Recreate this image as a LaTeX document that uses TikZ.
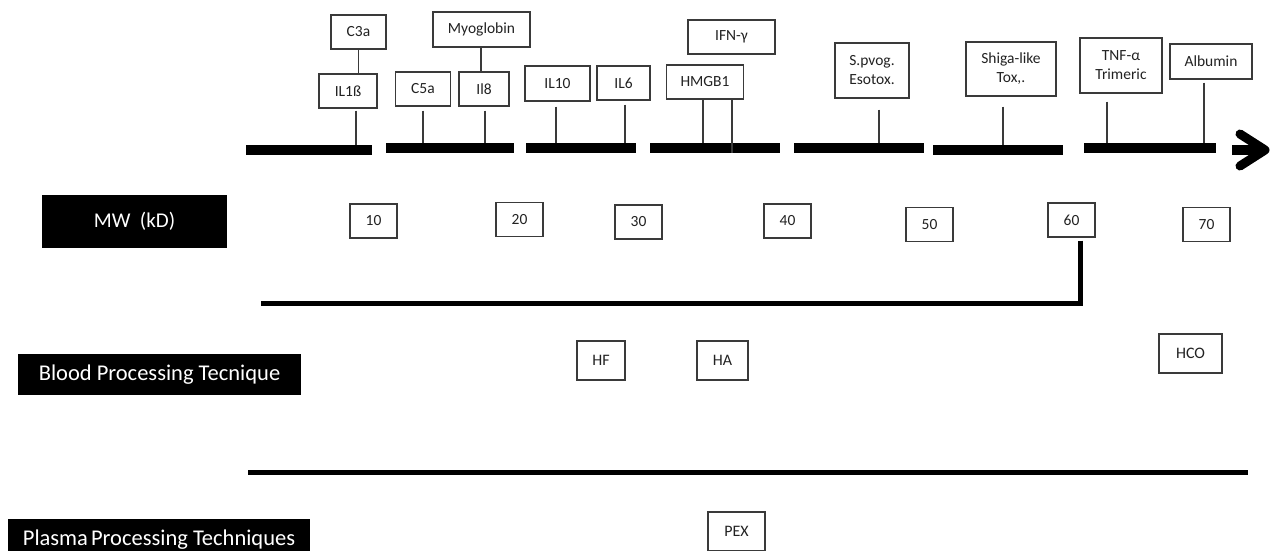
\documentclass[tikz,border=0pt]{standalone}
\usepackage{fontspec}
\setmainfont{Carlito}
\definecolor{boxgray}{HTML}{3A3A3A}
\definecolor{txt}{HTML}{222222}
\tikzset{
  lbl/.style={draw=boxgray, line width=1.3pt, fill=white, inner sep=0pt, align=center,
    text=txt, font=\fontsize{15.5}{19}\selectfont},
  num/.style={lbl, minimum width=47, minimum height=34, font=\fontsize{15.5}{17}\selectfont},
  tech/.style={lbl, minimum height=39, font=\fontsize{16}{18}\selectfont},
  head/.style={fill=black, text=white, inner sep=0pt, font=\fontsize{21}{24}\selectfont},
  bighead/.style={head, font=\fontsize{22.5}{26}\selectfont},
  barbox/.style={fill=black, inner sep=0pt, minimum height=10},
  tick/.style={draw=boxgray, line width=1.2pt},
  thickline/.style={draw=black, line width=5pt},
}
\begin{document}
\begin{tikzpicture}[x=1pt, y=-1pt]
\useasboundingbox (0,0) rectangle (1272,551);

% timeline bars
\node[barbox, minimum width=126] (b1) at (309,150) {};
\node[barbox, minimum width=128] (b2) at (450,148) {};
\node[barbox, minimum width=110] (b3) at (581,148) {};
\node[barbox, minimum width=130] (b4) at (715,148) {};
\node[barbox, minimum width=130] (b5) at (859,148) {};
\node[barbox, minimum width=130] (b6) at (998,150) {};
\node[barbox, minimum width=132] (b7) at (1150,148) {};
\coordinate (arrS) at (1232,150);
\coordinate (arrT) at (1265,150);
\coordinate (arrU) at (1240,134);
\coordinate (arrD) at (1240,166);
\draw[line width=10pt] (arrS) -- (arrT);
\draw[line width=9pt, line cap=round, line join=round] (arrU) -- (arrT) -- (arrD);

% molecule boxes
\node[lbl, minimum width=55, minimum height=34] (c3a) at (358.5,32) {C3a};
\node[lbl, minimum width=58, minimum height=34] (il1b) at (348,91) {IL1ß};
\node[lbl, minimum width=55, minimum height=34] (c5a) at (423,89) {C5a};
\node[lbl, minimum width=50, minimum height=34] (il8) at (484,89) {Il8};
\node[lbl, minimum width=97, minimum height=35] (myo) at (481.5,29.5) {Myoglobin};
\node[lbl, minimum width=65, minimum height=35] (il10) at (557.5,83.5) {IL10};
\node[lbl, minimum width=53, minimum height=34] (il6) at (623.5,83) {IL6};
\node[lbl, minimum width=77, minimum height=34] (hmgb) at (705,82) {HMGB1};
\node[lbl, minimum width=87, minimum height=34] (ifn) at (731.5,37) {IFN-γ};
\node[lbl, minimum width=74, minimum height=55] (spv) at (872,70.5) {S.pvog.\\Esotox.};
\node[lbl, minimum width=90, minimum height=54] (shiga) at (1011,69) {Shiga-like\\Tox,.};
\node[lbl, minimum width=82, minimum height=55] (tnf) at (1121,65.5) {TNF-α\\Trimeric};
\node[lbl, minimum width=82, minimum height=35] (alb) at (1211,61.5) {Albumin};

% connectors
\draw[tick] (c3a.south) -- (c3a.south |- il1b.north);
\draw[tick, shorten <=2pt] ([xshift=8]il1b.south) -- ([xshift=8]il1b.south |- b1.north);
\draw[tick, shorten <=4pt] (c5a.south) -- (c5a.south |- b2.north);
\draw[tick, shorten <=4pt] ([xshift=1]il8.south) -- ([xshift=1]il8.south |- b2.north);
\draw[tick] ([xshift=-0.5]myo.south) -- ([xshift=-0.5]myo.south |- il8.north);
\draw[tick, shorten <=5pt] ([xshift=-1.5]il10.south) -- ([xshift=-1.5]il10.south |- b3.north);
\draw[tick, shorten <=4pt] ([xshift=1.5]il6.south) -- ([xshift=1.5]il6.south |- b3.north);
\draw[tick] ([xshift=-2]hmgb.south) -- ([xshift=-2]hmgb.south |- b4.north);
\draw[tick] ([xshift=27]hmgb.south) -- ([xshift=27]hmgb.south |- b4.south);
\draw[tick, shorten <=11pt] ([xshift=7]spv.south) -- ([xshift=7]spv.south |- b5.north);
\draw[tick, shorten <=10pt] ([xshift=-8]shiga.south) -- ([xshift=-8]shiga.south |- b6.north);
\draw[tick, shorten <=8pt] ([xshift=-14]tnf.south) -- ([xshift=-14]tnf.south |- b7.north);
\draw[tick, shorten <=3pt] ([xshift=-7]alb.south) -- ([xshift=-7]alb.south |- b7.north);

% MW row
\node[head, minimum width=185, minimum height=53] (mw) at (134.5,221.5) {MW\ \ (kD)};
\node[num] (n10) at (373.5,221) {10};
\node[num] (n20) at (519.5,219.5) {20};
\node[num] (n30) at (638.5,222) {30};
\node[num] (n40) at (787.5,221) {40};
\node[num] (n50) at (929.5,224.5) {50};
\node[num] (n60) at (1071.5,220) {60};
\node[num] (n70) at (1206.5,224.5) {70};

% bracket
\coordinate (bkL) at (261,303);
\draw[thickline, line join=miter] ([xshift=8.5,yshift=-3]n60.south) |- (bkL);

% blood processing
\node[bighead, minimum width=283, minimum height=41] (blood) at (159.5,374.5) {Blood Processing Tecnique};
\node[tech, minimum width=48] (hf) at (601,360.5) {HF};
\node[tech, minimum width=51] (ha) at (722.5,360.5) {HA};
\node[tech, minimum width=63] (hco) at (1190.5,353.5) {HCO};

% plasma
\coordinate (pl) at (248,472);
\coordinate (pr) at (1248,472);
\draw[thickline] (pl) -- (pr);
\node[bighead, minimum width=302, minimum height=42] (plasma) at (159,540) {Plasma\hspace{-2pt} Processing Techniques};
\node[tech, minimum width=57] (pex) at (736.5,531.5) {PEX};
\end{tikzpicture}
\end{document}
